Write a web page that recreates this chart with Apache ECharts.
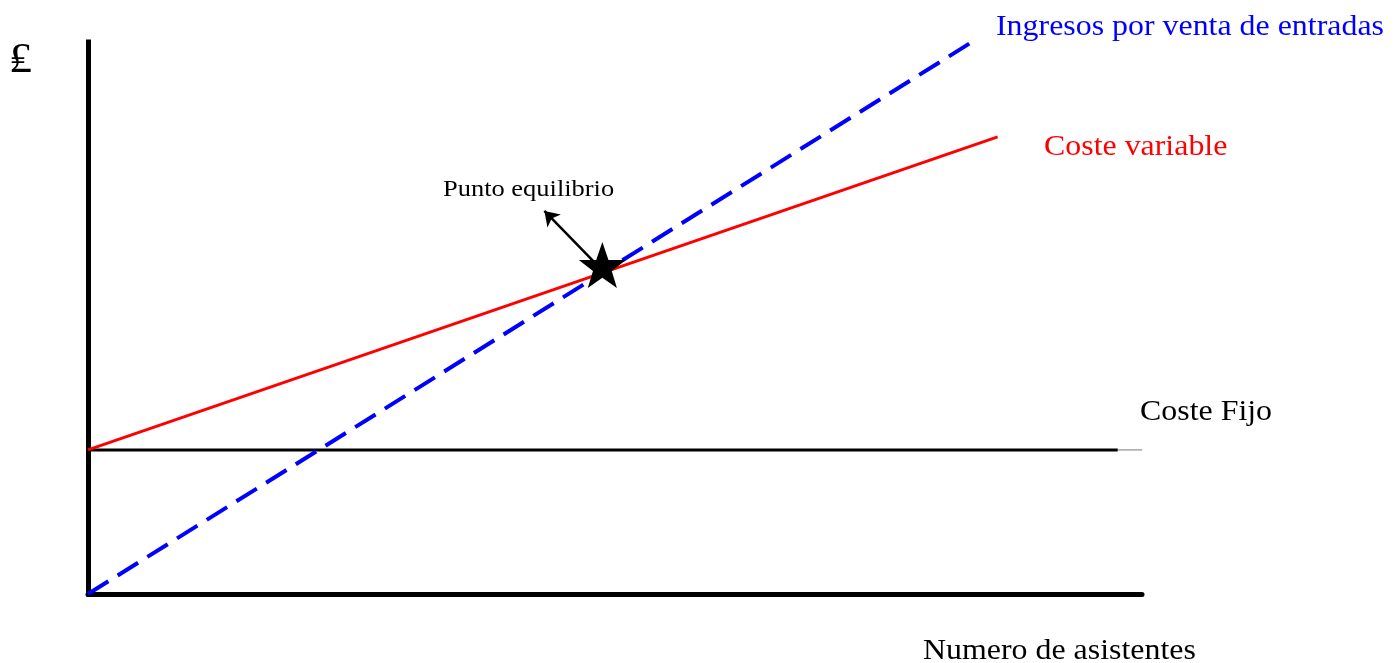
<!DOCTYPE html>
<html>
<head>
<meta charset="utf-8">
<script src="https://cdn.jsdelivr.net/npm/echarts@6/dist/echarts.min.js"></script>
<style>html,body{margin:0;padding:0;background:#fff;}#c{width:1397px;height:663px;}</style>
</head>
<body>
<div id="c"></div>
<script>
// Data (abstract units: x = attendees, y = £)
const costeFijo = [[0, 26.1], [97.7, 26.1]];
const costeFijoTail = [[97.7, 26.1], [100, 26.1]];
const costeVariable = [[0, 26.1], [86.3, 82.8]];
const ingresos = [[0, 0], [84.2, 100.4]];
const puntoEquilibrio = [[48.8, 59.6]];
const flecha = [[48.4, 59.4], [43.3, 69.4]];
const labels = {
  ingresos: 'Ingresos por venta de entradas',
  variable: 'Coste variable',
  fijo: 'Coste Fijo',
  punto: 'Punto equilibrio',
  xTitle: 'Numero de asistentes',
  yTitle: '₤'
};

const chart = echarts.init(document.getElementById('c'));
const serif = 'Liberation Serif, Times New Roman, serif';
// five-pointed star with slightly fuller inner radius
const starPath = 'path://M50,0 L63,37 L100,37 L70,60 L81,95 L50,74 L19,95 L30,60 L0,37 L37,37 Z';

function txt(text, x, y, size, color, sx, family) {
  return { type: 'text', x: x, y: y, scaleX: sx, z: 100,
    style: { text: text, font: size + 'px ' + (family || serif), fill: color, verticalAlign: 'top', align: 'left' } };
}

chart.setOption({
  animation: false,
  backgroundColor: '#fff',
  grid: { left: 88, right: 255, top: 42, bottom: 69, containLabel: false },
  xAxis: {
    type: 'value', min: 0, max: 100,
    axisLine: { show: true, onZero: false, lineStyle: { color: '#000', width: 5 } },
    axisTick: { show: false }, axisLabel: { show: false }, splitLine: { show: false }
  },
  yAxis: {
    type: 'value', min: 0, max: 100,
    axisLine: { show: true, onZero: false, lineStyle: { color: '#000', width: 5, cap: 'square' } },
    axisTick: { show: false }, axisLabel: { show: false }, splitLine: { show: false }
  },
  series: [
    {
      type: 'line', data: costeFijo, symbol: 'none', clip: false, z: 2,
      lineStyle: { color: '#000', width: 3 }
    },
    {
      type: 'line', data: costeFijoTail, symbol: 'none', clip: false, z: 2,
      lineStyle: { color: '#777', width: 1 }
    },
    {
      type: 'line', data: costeVariable, symbol: 'none', clip: false, z: 3,
      lineStyle: { color: '#ff0000', width: 3 }
    },
    {
      type: 'line', data: ingresos, symbol: 'none', clip: false, z: 4,
      lineStyle: { color: '#0000ff', width: 4, type: [24, 11] }
    },
    {
      type: 'lines', coordinateSystem: 'cartesian2d', z: 5,
      symbol: ['none', 'arrow'], symbolSize: 14,
      lineStyle: { color: '#000', width: 2.5, opacity: 1 },
      data: [{ coords: flecha }]
    },
    {
      type: 'scatter', data: puntoEquilibrio, z: 6,
      symbol: starPath, symbolSize: [47, 46],
      itemStyle: { color: '#000', opacity: 1 }
    }
  ],
  graphic: [
    txt(labels.yTitle, 9, 40, 42, '#000', 1.1, 'DejaVu Serif'),
    txt(labels.ingresos, 996, 13, 29, '#0000ff', 1.1),
    txt(labels.variable, 1044, 133, 29, '#ff0000', 1.1),
    txt(labels.fijo, 1140, 398, 29, '#000', 1.1),
    txt(labels.punto, 443, 178, 23, '#000', 1.15),
    txt(labels.xTitle, 923, 637, 29, '#000', 1.1)
  ]
});
</script>
</body>
</html>
